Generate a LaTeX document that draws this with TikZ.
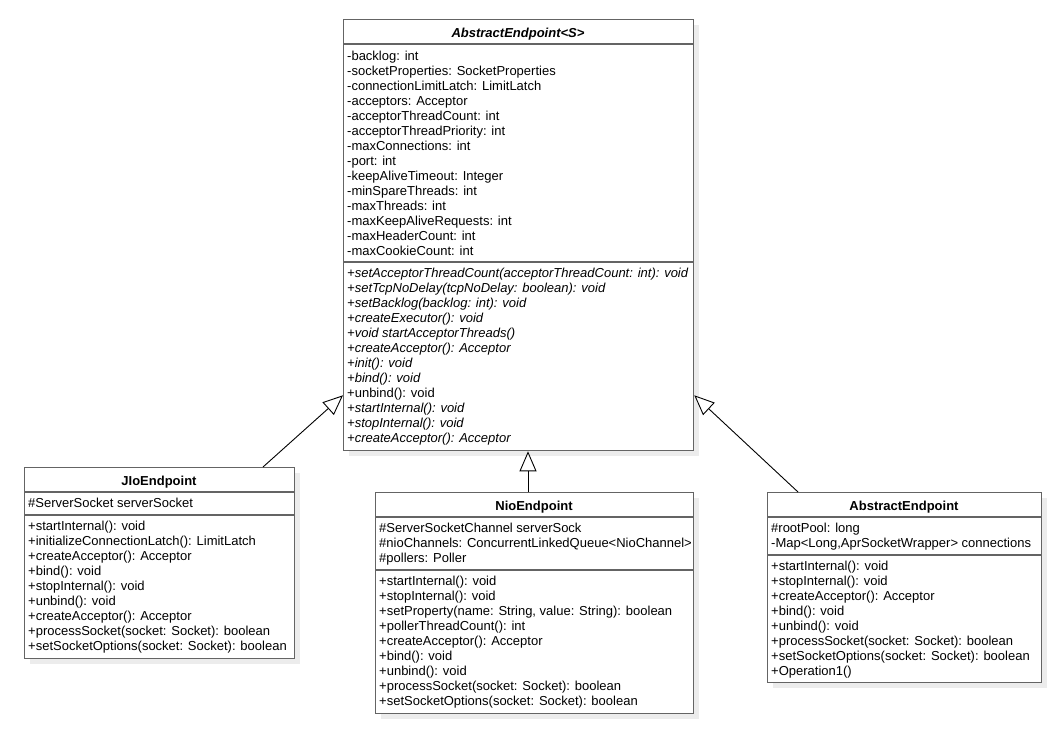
\documentclass[tikz,border=0pt]{standalone}
\usepackage{fontspec}
\setmainfont{Liberation Sans}
\usetikzlibrary{arrows.meta}
\definecolor{boxgray}{RGB}{100,100,100}
\definecolor{shadowgray}{RGB}{236,236,236}
\newcommand\umlfont{\fontsize{13}{15}\selectfont}
\begin{document}
\begin{tikzpicture}[x=1pt,y=-1pt,
  cls/.style={draw=boxgray,line width=1.3pt,fill=white,inner sep=0pt,anchor=north west},
  sec/.style={draw=boxgray,line width=1.3pt},
  shade/.style={fill=shadowgray},
  txt/.style={anchor=base west,inner sep=0pt,font=\umlfont},
  ttl/.style={anchor=base,inner sep=0pt,font=\umlfont\bfseries},
  inh/.style={draw=black,line width=0.9pt,-{Triangle[length=20pt,width=17pt,fill=white]}}]
\useasboundingbox (0,0) rectangle (1054,728);

% ---------- AbstractEndpoint<S> ----------
\fill[shade] (349,25) rectangle (699,456);
\node[cls,minimum width=350pt,minimum height=431pt] (top) at (343,19) {};
\draw[sec] (343,44) -- (693,44);
\draw[sec] (343,262) -- (693,262);
\node[ttl,font=\umlfont\bfseries\itshape] (toptitle) at (518,37) {AbstractEndpoint<S>};
\foreach \t [count=\i from 0] in {
  -backlog: int,
  -socketProperties: SocketProperties,
  -connectionLimitLatch: LimitLatch,
  -acceptors: Acceptor,
  -acceptorThreadCount: int,
  -acceptorThreadPriority: int,
  -maxConnections: int,
  -port: int,
  -keepAliveTimeout: Integer,
  -minSpareThreads: int,
  -maxThreads: int,
  -maxKeepAliveRequests: int,
  -maxHeaderCount: int,
  -maxCookieCount: int}
  \node[txt] (topa\i) at (347,60+15*\i) {\t};
\foreach \t [count=\i from 0] in {
  \itshape +setAcceptorThreadCount(acceptorThreadCount: int): void,
  \itshape +setTcpNoDelay(tcpNoDelay: boolean): void,
  \itshape +setBacklog(backlog: int): void,
  \itshape +createExecutor(): void,
  \itshape +void startAcceptorThreads(),
  \itshape +createAcceptor(): Acceptor,
  \itshape +init(): void,
  \itshape +bind(): void,
  +unbind(): void,
  \itshape +startInternal(): void,
  \itshape +stopInternal(): void,
  \itshape +createAcceptor(): Acceptor}
  \node[txt] (topm\i) at (347,277+15.06*\i) {\t};

% ---------- JIoEndpoint ----------
\fill[shade] (30,473) rectangle (300,664);
\node[cls,minimum width=270pt,minimum height=191pt] (jio) at (24,467) {};
\draw[sec] (24,492) -- (294,492);
\draw[sec] (24,515) -- (294,515);
\node[ttl] (jiotitle) at (159,485) {JIoEndpoint};
\node[txt] (jioa0) at (28,507) {\#ServerSocket serverSocket};
\foreach \t [count=\i from 0] in {
  +startInternal(): void,
  +initializeConnectionLatch(): LimitLatch,
  +createAcceptor(): Acceptor,
  +bind(): void,
  +stopInternal(): void,
  +unbind(): void,
  +createAcceptor(): Acceptor,
  +processSocket(socket: Socket): boolean,
  +setSocketOptions(socket: Socket): boolean}
  \node[txt] (jiom\i) at (28,530+15.06*\i) {\t};

% ---------- NioEndpoint ----------
\fill[shade] (381,498) rectangle (699,719);
\node[cls,minimum width=318pt,minimum height=221pt] (nio) at (375,492) {};
\draw[sec] (375,517) -- (693,517);
\draw[sec] (375,570) -- (693,570);
\node[ttl] (niotitle) at (534,510) {NioEndpoint};
\foreach \t [count=\i from 0] in {
  \#ServerSocketChannel serverSock,
  \#nioChannels: ConcurrentLinkedQueue<NioChannel>,
  \#pollers: Poller}
  \node[txt] (nioa\i) at (379,532+15*\i) {\t};
\foreach \t [count=\i from 0] in {
  +startInternal(): void,
  +stopInternal(): void,
  {+setProperty(name: String, value: String): boolean},
  +pollerThreadCount(): int,
  +createAcceptor(): Acceptor,
  +bind(): void,
  +unbind(): void,
  +processSocket(socket: Socket): boolean,
  +setSocketOptions(socket: Socket): boolean}
  \node[txt] (niom\i) at (379,585+15*\i) {\t};

% ---------- AbstractEndpoint (right) ----------
\fill[shade] (773,498) rectangle (1047,688);
\node[cls,minimum width=274pt,minimum height=190pt] (ape) at (767,492) {};
\draw[sec] (767,517) -- (1041,517);
\draw[sec] (767,555) -- (1041,555);
\node[ttl] (apetitle) at (904,510) {AbstractEndpoint};
\node[txt] (apea0) at (771,532) {\#rootPool: long};
\node[txt] (apea1) at (771,547) {-Map<Long,AprSocketWrapper> connections};
\foreach \t [count=\i from 0] in {
  +startInternal(): void,
  +stopInternal(): void,
  +createAcceptor(): Acceptor,
  +bind(): void,
  +unbind(): void,
  +processSocket(socket: Socket): boolean,
  +setSocketOptions(socket: Socket): boolean,
  +Operation1()}
  \node[txt] (apem\i) at (771,570+15*\i) {\t};

% ---------- generalizations ----------
\draw[inh] ([xshift=239pt]jio.north west) -- ([yshift=56pt]top.south west);
\draw[inh] ([xshift=153pt]nio.north west) -- ([xshift=185pt]top.south west);
\draw[inh] ([xshift=31pt]ape.north west) -- ([yshift=56pt]top.south east);
\end{tikzpicture}
\end{document}
